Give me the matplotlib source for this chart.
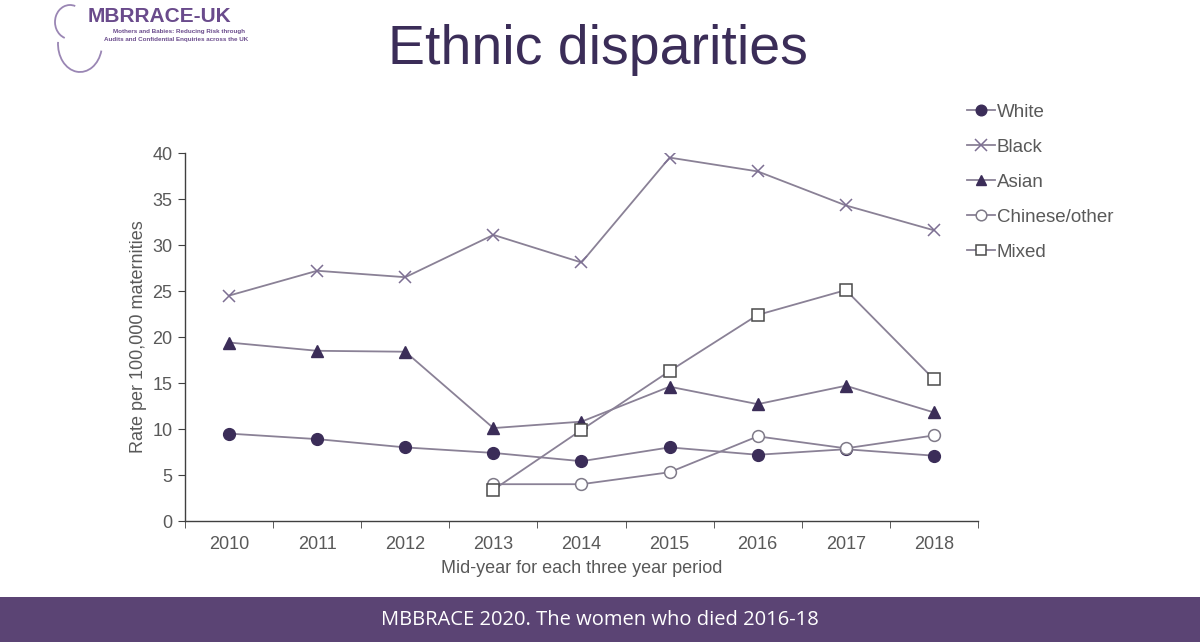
"""Ethnic disparities in maternal mortality (MBRRACE-UK slide)."""

import matplotlib
matplotlib.use("Agg")
import matplotlib.pyplot as plt
import matplotlib.patches as mpatches

# ── Data ──────────────────────────────────────────────────────────────
years = [2010, 2011, 2012, 2013, 2014, 2015, 2016, 2017, 2018]
years_short = [2013, 2014, 2015, 2016, 2017, 2018]

white = [9.5, 8.9, 8.0, 7.4, 6.5, 8.0, 7.2, 7.8, 7.1]
black = [24.5, 27.2, 26.5, 31.1, 28.1, 39.5, 38.0, 34.3, 31.6]
asian = [19.4, 18.5, 18.4, 10.1, 10.8, 14.6, 12.7, 14.7, 11.8]
chinese_other = [4.0, 4.0, 5.3, 9.2, 7.9, 9.3]
mixed = [3.4, 9.9, 16.3, 22.4, 25.1, 15.4]

# ── Style ─────────────────────────────────────────────────────────────
line_col = "#8a8196"
dark = "#3b2d58"
text_gray = "#595959"
band_col = "#5b4474"
plt.rcParams["font.family"] = ["Liberation Sans", "DejaVu Sans"]

fig = plt.figure(figsize=(12, 6.42), dpi=100)
fig.patch.set_facecolor("white")
ax = fig.add_axes([185 / 1200, 1 - 521 / 642, (978 - 185) / 1200, (521 - 153) / 642])

ax.plot(years, white, color=line_col, lw=1.3, marker="o", ms=8.5,
        mfc=dark, mec=dark, label="White")
ax.plot(years, black, color=line_col, lw=1.3, marker="x", ms=9,
        mew=1.1, mec="#7d6f93", label="Black")
ax.plot(years, asian, color=line_col, lw=1.3, marker="^", ms=8.5,
        mfc=dark, mec=dark, label="Asian")
ax.plot(years_short, chinese_other, color=line_col, lw=1.3, marker="o", ms=8.5,
        mfc="white", mec="#7f7a88", mew=1.1, label="Chinese/other")
ax.plot(years_short, mixed, color=line_col, lw=1.3, marker="s", ms=8,
        mfc="white", mec="#4a4a4a", mew=1.1, label="Mixed")

ax.set_xlim(2009.5, 2018.5)
ax.set_ylim(0, 40)
ax.set_yticks(range(0, 41, 5))
ax.set_xticks(years)
ax.set_xticks([y - 0.5 for y in years] + [2018.5], minor=True)
ax.tick_params(axis="x", which="major", length=0, pad=11,
               labelsize=13, labelcolor=text_gray)
ax.tick_params(axis="x", which="minor", length=5, color="#404040", direction="out")
ax.tick_params(axis="y", length=5, color="#404040", labelsize=13,
               labelcolor=text_gray, pad=4)
for s in ["top", "right"]:
    ax.spines[s].set_visible(False)
for s in ["left", "bottom"]:
    ax.spines[s].set_color("#404040")
    ax.spines[s].set_linewidth(1.0)

ax.set_xlabel("Mid-year for each three year period", fontsize=13,
              color=text_gray, labelpad=5)
ax.set_ylabel("Rate per 100,000 maternities", fontsize=13,
              color=text_gray, labelpad=4)

leg = ax.legend(loc="upper left", bbox_to_anchor=(950 / 1200, 1 - 87 / 642),
                bbox_transform=fig.transFigure, frameon=False,
                fontsize=13.5, handlelength=1.5, handletextpad=0.1,
                labelspacing=0.95, markerscale=0.9)
for t in leg.get_texts():
    t.set_color(text_gray)

# ── Title, logo and footer ────────────────────────────────────────────
fig.text(0.498, 1 - 50 / 642, "Ethnic disparities", ha="center", va="center",
         fontsize=40, color="#3b2d58")

fig.text(88 / 1200, 1 - 17 / 642, "MBRRACE-UK", ha="left", va="center",
         fontsize=15, fontweight="bold", color="#6a4b8c")
fig.text(113 / 1200, 1 - 32 / 642, "Mothers and Babies: Reducing Risk through",
         ha="left", va="center", fontsize=4.5, fontweight="bold", color="#6a4b8c")
fig.text(104 / 1200, 1 - 40 / 642, "Audits and Confidential Enquiries across the UK",
         ha="left", va="center", fontsize=4.5, fontweight="bold", color="#6a4b8c")
for (cx, cy, w, h, t1, t2) in [(70, 22, 30, 34, 80, 260), (80, 44, 44, 56, 170, 330)]:
    fig.patches.append(mpatches.Arc((cx / 1200, 1 - cy / 642), w / 1200, h / 642,
                                    theta1=t1, theta2=t2, transform=fig.transFigure,
                                    color="#9a86b4", lw=1.3))

fig.patches.append(mpatches.Rectangle((0, 0), 1, 45 / 642, transform=fig.transFigure,
                                      facecolor=band_col, edgecolor="none"))
fig.text(0.5, 22 / 642, "MBBRACE 2020. The women who died 2016-18", ha="center",
         va="center", fontsize=14.5, color="white", family=["Open Sans", "DejaVu Sans"])

fig.savefig("out.png", dpi=100, facecolor="white")
